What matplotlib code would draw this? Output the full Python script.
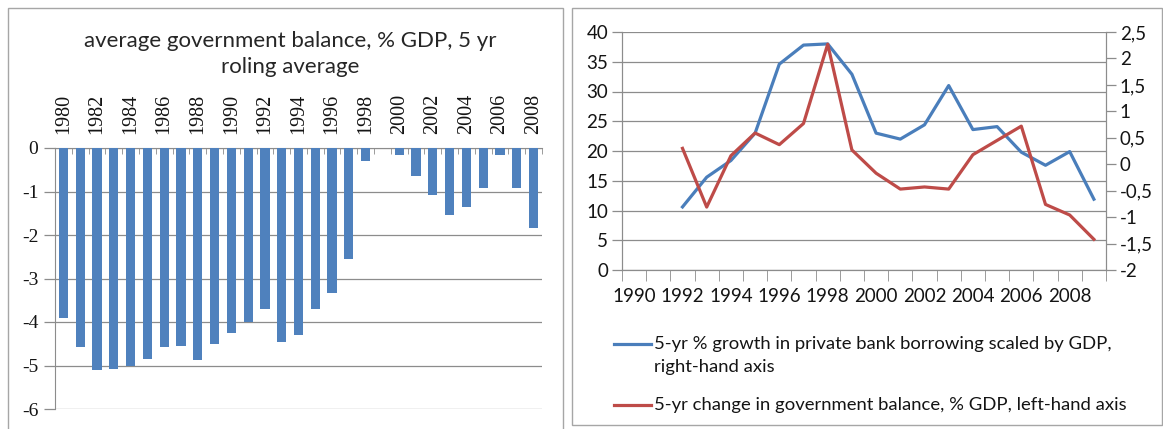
import matplotlib
matplotlib.use("Agg")
import matplotlib.pyplot as plt
from matplotlib.patches import Rectangle
from matplotlib.lines import Line2D
import numpy as np

# ---------------- data ----------------
bar_years = list(range(1980, 2009))
bar_values = [-3.90, -4.57, -5.11, -5.07, -5.00, -4.85, -4.57, -4.55, -4.88, -4.50,
              -4.25, -4.00, -3.69, -4.47, -4.31, -3.71, -3.33, -2.55, -0.31, 0.0,
              -0.16, -0.64, -1.07, -1.53, -1.36, -0.91, -0.15, -0.93, -1.85]

line_years = list(range(1990, 2010))
bank_years = list(range(1992, 2010))
bank_growth = [10.6, 15.6, 18.4, 23.0, 34.6, 37.8, 38.0, 32.9, 23.0, 22.0,
               24.4, 31.0, 23.6, 24.1, 19.8, 17.6, 19.9, 11.9]
gov_change = [0.30, -0.81, 0.16, 0.59, 0.37, 0.77, 2.27, 0.27, -0.17, -0.47,
              -0.43, -0.47, 0.18, 0.45, 0.72, -0.76, -0.96, -1.42]

left_title = "average government balance, % GDP, 5 yr\nroling average"
legend_blue = "5-yr % growth in private bank borrowing scaled by GDP,\nright-hand axis"
legend_red = "5-yr change in government balance, % GDP, left-hand axis"

# ---------------- figure ----------------
W, H = 1163, 429
fig = plt.figure(figsize=(W / 100, H / 100), dpi=100)
fig.patch.set_facecolor("white")

def fx(px):
    return px / W

def fy(py):
    return 1 - py / H

border_col = "#A6A6A6"
grid_col = "#8C8C8C"
txt_col = "#141414"
sans = ["Lato", "DejaVu Sans"]
serif = ["Liberation Serif", "DejaVu Serif"]

# panel borders
fig.patches.append(Rectangle((fx(8), fy(440)), fx(563) - fx(8), fy(8) - fy(440),
                             transform=fig.transFigure, fill=False,
                             edgecolor=border_col, linewidth=1.0))
fig.patches.append(Rectangle((fx(572), fy(425)), fx(1162) - fx(572), fy(8) - fy(425),
                             transform=fig.transFigure, fill=False,
                             edgecolor=border_col, linewidth=1.0))

# ---------------- left chart ----------------
axL = fig.add_axes([fx(55), fy(409), fx(542) - fx(55), fy(148) - fy(409)])
xL = np.arange(len(bar_years))
axL.bar(xL, bar_values, width=0.55, color="#4F81BD", zorder=3)
axL.set_xlim(-0.5, len(bar_years) - 0.5)
axL.set_ylim(-6, 0)
axL.set_yticks(range(-6, 1))
axL.set_yticklabels([str(v) for v in range(-6, 1)], fontfamily=serif, fontsize=14,
                    color=txt_col)
axL.yaxis.grid(True, color=grid_col, linewidth=0.9, zorder=0)
axL.tick_params(axis="y", length=8, color=grid_col, width=0.9, pad=4)
for s in ["right", "bottom"]:
    axL.spines[s].set_visible(False)
axL.spines["left"].set_color(grid_col)
axL.spines["top"].set_color(grid_col)
axL.xaxis.set_ticks_position("top")
axL.set_xticks(xL[::2])
axL.set_xticklabels([str(y) for y in bar_years[::2]], rotation=90,
                    fontfamily=serif, fontsize=14.5, color=txt_col)
axL.set_xticks(np.arange(-0.5, len(bar_years)), minor=True)
axL.tick_params(axis="x", which="major", length=0, pad=10)
axL.tick_params(axis="x", which="minor", length=4, direction="in", color=grid_col)
fig.text(fx(290), fy(54), left_title, ha="center", va="center",
         fontfamily=sans, fontsize=16, linespacing=1.35, color="#262626")

# ---------------- right chart ----------------
axR = fig.add_axes([fx(622), fy(270), fx(1106) - fx(622), fy(32) - fy(270)])
xB = [line_years.index(y) for y in bank_years]
axR.plot(xB, bank_growth, color="#4A7EBB", linewidth=2.3, zorder=3)
axR.set_xlim(-0.5, len(line_years) - 0.5)
axR.set_ylim(0, 40)
axR.set_yticks(range(0, 41, 5))
axR.set_yticklabels([str(v) for v in range(0, 41, 5)], fontfamily=sans, fontsize=13.5,
                    color=txt_col)
axR.yaxis.grid(True, color=grid_col, linewidth=0.9, zorder=0)
axR.tick_params(axis="y", length=7, color=grid_col, width=0.9, pad=3)
axR.set_xticks(np.arange(len(line_years))[::2])
axR.set_xticklabels([str(y) for y in line_years[::2]], fontfamily=sans, fontsize=13.5,
                    color=txt_col)
axR.set_xticks(np.arange(-0.5, len(line_years)), minor=True)
axR.tick_params(axis="x", which="major", length=0, pad=13)
axR.tick_params(axis="x", which="minor", length=8, direction="out", color=grid_col)
for s in axR.spines.values():
    s.set_color(grid_col)
axR.spines["top"].set_visible(False)

axR2 = axR.twinx()
axR2.plot(xB, gov_change, color="#BE4B48", linewidth=2.3, zorder=3)
axR2.set_ylim(-2, 2.5)
r_ticks = [-2, -1.5, -1, -0.5, 0, 0.5, 1, 1.5, 2, 2.5]
axR2.set_yticks(r_ticks)
axR2.set_yticklabels([("%g" % v).replace(".", ",") for v in r_ticks],
                     fontfamily=sans, fontsize=13.5, color=txt_col)
axR2.tick_params(axis="y", length=7, color=grid_col, width=0.9, pad=3)
for s in axR2.spines.values():
    s.set_color(grid_col)
axR2.spines["top"].set_visible(False)

# legend (manual layout)
fig.lines.append(Line2D([fx(614), fx(651)], [fy(344), fy(344)], transform=fig.transFigure,
                        color="#4A7EBB", linewidth=2.3))
fig.lines.append(Line2D([fx(614), fx(651)], [fy(405), fy(405)], transform=fig.transFigure,
                        color="#BE4B48", linewidth=2.3))
fig.text(fx(654), fy(344), legend_blue.split("\n")[0], ha="left", va="center",
         fontfamily=sans, fontsize=13.3, color=txt_col)
fig.text(fx(654), fy(367), legend_blue.split("\n")[1], ha="left", va="center",
         fontfamily=sans, fontsize=13.3, color=txt_col)
fig.text(fx(654), fy(405), legend_red, ha="left", va="center",
         fontfamily=sans, fontsize=13.3, color=txt_col)

fig.savefig("out.png", dpi=100, facecolor="white")
